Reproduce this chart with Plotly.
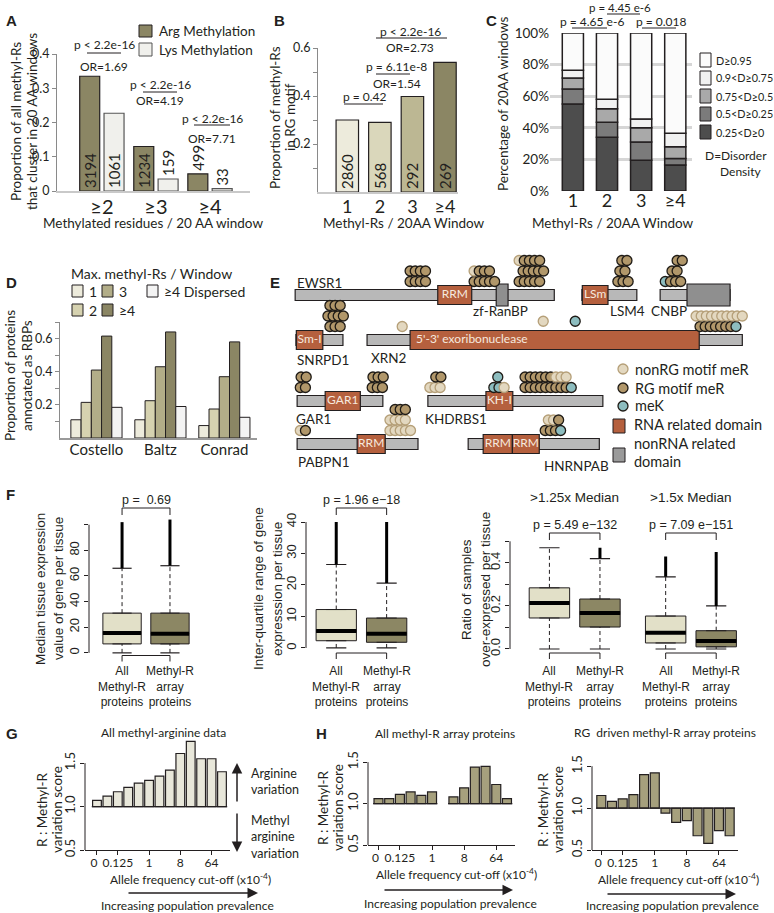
import plotly.graph_objects as go

W, H = 774, 913
MY = "Lato"              # stands in for the Myriad-like face of the figure
AR = "Liberation Sans"   # R graphics text in panel F
INK = "#231f20"

# ---------------- A ----------------
a_windows = ["≥2", "≥3", "≥4"]
a_arg = [0.335, 0.130, 0.050]
a_lys = [0.227, 0.035, 0.007]
a_arg_n = ["3194", "1234", "499"]
a_lys_n = ["1061", "159", "33"]
a_pval = ["p < 2.2e-16", "p < 2.2e-16", "p < 2.2e-16"]
a_odds = ["OR=1.69", "OR=4.19", "OR=7.71"]

# ---------------- B ----------------
b_windows = ["1", "2", "3", "≥4"]
b_rg = [0.300, 0.290, 0.398, 0.540]
b_n = ["2860", "568", "292", "269"]

# ---------------- C ----------------
c_windows = ["1", "2", "3", "≥4"]
c_bins = ["0.25<D≥0", "0.5<D≥0.25", "0.75<D≥0.5", "0.9<D≥0.75", "D≥0.95"]
c_share = [
    [0.550, 0.340, 0.195, 0.165],
    [0.095, 0.095, 0.115, 0.040],
    [0.070, 0.085, 0.090, 0.075],
    [0.050, 0.060, 0.055, 0.085],
    [0.235, 0.420, 0.545, 0.635],
]

# ---------------- D ----------------
d_studies = ["Costello", "Baltz", "Conrad"]
d_groups = ["1", "2", "3", "≥4", "≥4 Dispersed"]
d_rbp = [
    [0.110, 0.110, 0.075],
    [0.215, 0.225, 0.175],
    [0.410, 0.430, 0.370],
    [0.615, 0.640, 0.580],
    [0.185, 0.190, 0.125],
]

# ---------------- E ----------------
e_proteins = ["EWSR1", "LSM4", "CNBP", "SNRPD1", "XRN2", "GAR1", "KHDRBS1", "PABPN1", "HNRNPAB"]
e_length = [656, 139, 177, 119, 950, 217, 443, 306, 332]
e_row = [0, 0, 0, 1, 1, 2, 2, 3, 3]
e_left = [89, 815, 1013, 91, 271, 94, 425, 94, 527]
e_dom_protein = ["EWSR1", "EWSR1", "LSM4", "CNBP", "SNRPD1", "XRN2", "GAR1", "KHDRBS1",
                 "PABPN1", "HNRNPAB", "HNRNPAB"]
e_dom_start = [361, 509, 1, 68, 1, 109, 71, 147, 152, 38, 112]
e_dom_end = [447, 539, 66, 177, 68, 841, 160, 215, 223, 112, 180]
e_dom_name = ["RRM", "", "LSm", "", "Sm-I", "5'-3' exoribonuclease", "GAR1", "KH-I", "RRM", "RRM", "RRM"]
e_dom_rna = [True, False, True, False, True, True, True, True, True, True, True]
# (protein, first residue, stack level, site types: N nonRG meR, R RG meR, K meK)
e_sites = [
    ("EWSR1", 291, 0, "RRRR"), ("EWSR1", 291, 1, "RRRR"),
    ("EWSR1", 453, 0, "RRRRR"), ("EWSR1", 453, 1, "NRRR"),
    ("EWSR1", 567, 0, "RRRRR"), ("EWSR1", 577, 1, "RRRRR"), ("EWSR1", 567, 2, "NRRRR"),
    ("LSM4", 91, 0, "RRR"), ("LSM4", 96, 1, "RR"), ("LSM4", 101, 2, "RR"),
    ("CNBP", 13, 0, "KRRR"), ("CNBP", 30, 1, "RR"), ("CNBP", 43, 2, "RR"),
    ("SNRPD1", 86, 0, "RRR"), ("SNRPD1", 81, 1, "RRRR"), ("SNRPD1", 86, 2, "RRR"),
    ("XRN2", 89, 0, "N"), ("XRN2", 446, 0.5, "N"), ("XRN2", 527, 0.5, "K"),
    ("XRN2", 843, 0, "RRRRRRRK"), ("XRN2", 833, 1, "NNNNNNNNNN"),
    ("GAR1", 8, 0, "RR"), ("GAR1", 10, 1, "RR"), ("GAR1", 190, 0, "RRR"), ("GAR1", 192, 1, "RRR"),
    ("KHDRBS1", 5, 0, "NNN"), ("KHDRBS1", 20, 1, "RR"),
    ("KHDRBS1", 167, 0, "KKN"), ("KHDRBS1", 177, 1, "K"),
    ("KHDRBS1", 246, 0, "RRRRRRRRRK"), ("KHDRBS1", 246, 1, "RRRRRRNNN"),
    ("PABPN1", 8, 0, "NR"), ("PABPN1", 235, 0, "NNNNN"), ("PABPN1", 235, 1, "NNNN"),
    ("PABPN1", 248, 2, "RRR"),
    ("HNRNPAB", 195, 0, "RRRK"), ("HNRNPAB", 203, 1, "NNR"),
]

# ---------------- F ----------------
f_groups = ["All<br>Methyl-R<br>proteins", "Methyl-R<br>array<br>proteins"]
f_q1 = [[7.0, 7.0], [2.3, 1.8], [0.144, 0.102, 0.028, 0.010]]
f_med = [[15.5, 15.0], [5.4, 4.5], [0.214, 0.167, 0.075, 0.037]]
f_q3 = [[31.0, 31.0], [12.2, 9.5], [0.284, 0.232, 0.153, 0.085]]
f_lo = [[0, 0], [0, 0], [0, 0, 0, 0]]
f_hi = [[66, 68], [26.5, 20.6], [0.47, 0.42, 0.335, 0.20]]
f_out = [[102, 104], [40, 40], [None, 0.47, 0.43, 0.45]]
f_pvals = ["p =  0.69", "p = 1.96 e\u221218", "p = 5.49 e\u2212132", "p = 7.09 e\u2212151"]

# ---------------- G / H ----------------
af_cutoff = ["0", "0.0625", "0.125", "0.25", "0.5", "1", "2", "4", "8", "16", "32", "64", "128"]
af_shown = ["0", "0.125", "1", "8", "64"]
g_all = [1.07, 1.12, 1.17, 1.22, 1.27, 1.30, 1.35, 1.42, 1.61, 1.75, 1.55, 1.55, 1.40]
h_array = [1.06, 1.06, 1.11, 1.14, 1.10, 1.14, None, 1.08, 1.19, 1.44, 1.45, 1.23, 1.06]
h_rg = [1.15, 1.08, 1.11, 1.16, 1.40, 1.42, 0.94, 0.83, 0.85, 0.67, 0.58, 0.73, 0.67]

ARG = "#8b8664"
LYS = "#f0f0ec"
B_COL = ["#edebdc", "#dad7bb", "#bcb793", "#8b8664"]
C_COL = ["#4d4d4d", "#7b7b7b", "#a9a9a9", "#f1f1f1", "#fbfbfb"]
D_COL = ["#edebdc", "#d6d2b0", "#b2ad88", "#8b8664", "#f3f3f3"]
F_COL = ["#e2e0c8", "#8c8764"]

fig = go.Figure()
ann, shp, axes = [], [], {}


def X(p):
    return p / W


def Y(p):
    return 1 - p / H


def text(s, x, y, size, family=MY, anchor="center", angle=0, color=INK, align="center"):
    ann.append(dict(text=s, x=X(x), y=Y(y), xref="paper", yref="paper", showarrow=False,
                    xanchor=anchor, yanchor="middle", textangle=angle, align=align,
                    font=dict(family=family, size=size, color=color)))


def seg(x0, y0, x1, y1, color=INK, width=1):
    shp.append(dict(type="line", xref="paper", yref="paper", x0=X(x0), y0=Y(y0),
                    x1=X(x1), y1=Y(y1), line=dict(color=color, width=width)))


def rect(x0, y0, x1, y1, fill, line=INK):
    shp.append(dict(type="rect", xref="paper", yref="paper", x0=X(x0), y0=Y(y1),
                    x1=X(x1), y1=Y(y0), fillcolor=fill, line=dict(color=line, width=1)))


def arrow(x0, y0, x1, y1):
    ann.append(dict(x=X(x1), y=Y(y1), ax=x0 - x1, ay=y0 - y1, xref="paper", yref="paper",
                    text="", showarrow=True, arrowhead=2, arrowsize=1.4, arrowwidth=1.5,
                    arrowcolor=INK))


def add_axes(n, xpx, ypx, xr, yr, xkw=None, ykw=None):
    base = dict(showgrid=False, zeroline=False, showline=False, ticks="", automargin=False,
                showticklabels=False, fixedrange=True, tickangle=0)
    s = "" if n == 1 else str(n)
    ax = dict(base, domain=[X(xpx[0]), X(xpx[1])], range=xr, anchor="y" + s)
    ay = dict(base, domain=[Y(ypx[1]), Y(ypx[0])], range=yr, anchor="x" + s)
    ax.update(xkw or {})
    ay.update(ykw or {})
    axes["xaxis" + s] = ax
    axes["yaxis" + s] = ay
    return "x" + s, "y" + s


def cat_x(labels, size):
    return dict(showticklabels=True, tickvals=list(range(len(labels))), ticktext=labels,
                ticklabelstandoff=-3, tickfont=dict(family=MY, size=size, color=INK))


def num_y(vals, labels, size=13, color="#8a8a8a", family=MY, angle=0):
    return dict(showticklabels=True, tickvals=vals, ticktext=labels, ticks="outside",
                ticklen=4, tickcolor=color, tickangle=angle,
                tickfont=dict(family=family, size=size, color=INK))


# ======================= A =======================
xa, ya = add_axes(1, (57, 250), (54, 191), [-0.83, 2.74], [0, 0.4],
                  dict(cat_x(a_windows, 20), showline=True, linecolor="#c9c9c9", linewidth=2),
                  dict(num_y([0, 0.1, 0.2, 0.3, 0.4], ["0", "0.1", "0.2", "0.3", "0.4"], 12.5),
                       showline=True, linecolor="#8a8a8a"))
fig.add_bar(x=list(range(3)), y=a_arg, offset=-0.41, width=0.37, xaxis=xa, yaxis=ya,
            marker=dict(color=ARG, line=dict(color=INK, width=1.2)),
            text=a_arg_n, textangle=-90, textposition=["inside", "inside", "outside"],
            insidetextanchor="start", constraintext="none", cliponaxis=False,
            textfont=dict(family=MY, size=15, color=INK))
fig.add_bar(x=list(range(3)), y=a_lys, offset=0.04, width=0.37, xaxis=xa, yaxis=ya,
            marker=dict(color=LYS, line=dict(color="#555555", width=1.2)),
            text=a_lys_n, textangle=-90, textposition=["inside", "outside", "outside"],
            insidetextanchor="start", constraintext="none", cliponaxis=False,
            textfont=dict(family=MY, size=15, color=INK))
text("<b>A</b>", 4, 20, 15, AR, "left")
text("Proportion of all methyl-Rs", 16, 122, 13.5, angle=-90)
text("that cluster in 20 AA windows", 32, 122, 13.5, angle=-90)
text("Methylated residues / 20 AA window", 153, 223, 13.5)
rect(139, 25, 152, 37, ARG)
rect(139, 43, 152, 56, LYS, "#555555")
text("Arg Methylation", 157, 31, 13.5, anchor="left")
text("Lys Methylation", 157, 50, 13.5, anchor="left")
for cx, yp, yl, yo, half, p, o in zip([104, 160, 212], [45, 85, 118], [53, 92, 125],
                                      [66, 101, 138], [17, 17, 18], a_pval, a_odds):
    text(p, cx, yp, 12)
    seg(cx - half, yl, cx + half, yl)
    text(o, cx, yo, 12)

# ======================= B =======================
xb, yb = add_axes(2, (318, 458), (48, 192), [-0.9, 3.4], [0, 0.6],
                  dict(cat_x(b_windows, 18), showline=True, linecolor="#c9c9c9", linewidth=2),
                  dict(num_y([0.1, 0.2, 0.3, 0.4, 0.5, 0.6], ["", "0.2", "", "0.4", "", "0.6"], 12.5),
                       showline=True, linecolor="#8a8a8a"))
fig.add_bar(x=list(range(4)), y=b_rg, width=0.69, xaxis=xb, yaxis=yb,
            marker=dict(color=B_COL, line=dict(color=INK, width=1.2)),
            text=b_n, textangle=-90, textposition="inside", insidetextanchor="start",
            constraintext="none", textfont=dict(family=MY, size=15, color=INK))
text("<b>B</b>", 279, 20, 15, AR)
text("Proportion of methyl-Rs", 275, 118, 13.5, angle=-90)
text("in RG motif", 290, 117, 13.5, angle=-90)
text("Methyl-Rs / 20AA Window", 404, 223, 13.5)
text("p = 0.42", 365, 97, 12)
seg(344, 104, 383, 104)
text("p = 6.11e-8", 397, 66, 12)
seg(376, 74, 410, 74)
text("OR=1.54", 397, 84, 12)
text("p < 2.2e-16", 410, 31, 12)
seg(376, 38, 447, 38)
text("OR=2.73", 410, 48, 12)

# ======================= C =======================
xc, yc = add_axes(3, (550, 692), (33, 191), [-0.67, 3.49], [0, 1],
                  cat_x(c_windows, 18),
                  dict(showgrid=True, gridcolor="#d6d6d6", gridwidth=3, showticklabels=True,
                       tickvals=[0, 0.2, 0.4, 0.6, 0.8, 1.0],
                       ticktext=["0%", "20%", "40%", "60%", "80%", "100%"],
                       tickfont=dict(family=MY, size=13.5, color=INK)))
base = [0.0] * 4
for name, vals, col in zip(c_bins, c_share, C_COL):
    fig.add_bar(x=list(range(4)), y=vals, base=list(base), width=0.62, name=name,
                xaxis=xc, yaxis=yc, marker=dict(color=col, line=dict(color=INK, width=1.5)))
    base = [b + v for b, v in zip(base, vals)]
text("<b>C</b>", 491, 20, 15, AR)
text("Percentage of 20AA windows", 503, 104, 13.5, angle=-90)
text("Methyl-Rs / 20AA Window", 613, 223, 13.5)
text("p = 4.65 e-6", 592, 22, 12)
seg(572, 28, 607, 28)
text("p = 4.45 e-6", 620, 7.5, 11.5)
seg(607, 14, 640, 14)
text("p = 0.018", 661, 22, 12)
seg(642, 28, 676, 28)
for i, (name, col) in enumerate(reversed(list(zip(c_bins, C_COL)))):
    yy = 60 + 18 * i
    rect(700, yy - 7, 711, yy + 7, col)
    text(name, 714, yy, 10.8, anchor="left")
text("D=Disorder", 703, 155, 12, anchor="left")
text("Density", 718, 171, 12, anchor="left")

# ======================= D =======================
xd, yd = add_axes(4, (60, 257), (322, 438), [-0.57, 2.51], [0, 0.7],
                  dict(cat_x(d_studies, 15), showline=True, linecolor="#9a9a9a", linewidth=1.5),
                  dict(num_y([0.1, 0.2, 0.3, 0.4, 0.5, 0.6, 0.7],
                             ["", "0.2", "", "0.4", "", "0.6", ""], 12.5),
                       showline=True, linecolor="#8a8a8a"))
for i, (name, vals, col) in enumerate(zip(d_groups, d_rbp, D_COL)):
    fig.add_bar(x=list(range(3)), y=vals, offset=-0.4 + 0.16 * i, width=0.16, name=name,
                xaxis=xd, yaxis=yd, marker=dict(color=col, line=dict(color=INK, width=1)))
text("<b>D</b>", 4, 282, 15, AR, "left")
text("Proportion of proteins", 10, 376, 13.5, angle=-90)
text("annotated as RBPs", 27, 376, 13.5, angle=-90)
text("Max. methyl-Rs / Window", 151, 273, 14)
for (lx, ly), g, col in zip([(72, 291), (72, 310), (102, 291), (102, 310), (147, 291)],
                            d_groups, D_COL):
    rect(lx, ly - 6, lx + 11, ly + 6, col)
    text(g, lx + 15, ly, 14, anchor="left")

# ======================= E =======================
E_PX = 0.395                      # pixels per residue on the drawing
xe, ye = add_axes(5, (260, 774), (250, 470), [0, 514 / E_PX], [470, 250])
row_y = [295, 340, 401, 444]
left_of = dict(zip(e_proteins, e_left))
row_of = dict(zip(e_proteins, e_row))
fig.add_bar(orientation="h", y=[row_y[r] for r in e_row], x=e_length, base=e_left, width=11,
            xaxis=xe, yaxis=ye, marker=dict(color="#b8b8b8", line=dict(color=INK, width=1.2)))
fig.add_bar(orientation="h", y=[row_y[row_of[p]] for p in e_dom_protein],
            x=[e - s for s, e in zip(e_dom_start, e_dom_end)],
            base=[left_of[p] + s for p, s in zip(e_dom_protein, e_dom_start)],
            width=[19 if r else 22 for r in e_dom_rna], xaxis=xe, yaxis=ye,
            marker=dict(color=["#b5603e" if r else "#8f8f8f" for r in e_dom_rna],
                        line=dict(color=INK, width=1.2)))
lab_x, lab_y, lab_t, lab_pos = [], [], [], []
for p, s, e, n in zip(e_dom_protein, e_dom_start, e_dom_end, e_dom_name):
    if not n:
        continue
    long_name = len(n) > 6
    lab_x.append(left_of[p] + (s + 15 if long_name else (s + e) / 2))
    lab_y.append(row_y[row_of[p]])
    lab_t.append(n)
    lab_pos.append("middle right" if long_name else "middle center")
fig.add_scatter(x=lab_x, y=lab_y, text=lab_t, mode="text", textposition=lab_pos,
                textfont=dict(family=MY, size=12, color="#f6e9df"), xaxis=xe, yaxis=ye)
SITE_STYLE = {"N": ("#e3d8c0", "#b59f78"), "R": ("#b1976a", "#1f1b16"), "K": ("#8dbdbf", "#1f1b16")}
sx, sy, sf, sl = [], [], [], []
for p, aa, lvl, kinds in e_sites:
    for i, k in enumerate(kinds):
        sx.append(left_of[p] + aa + 13 * i)
        sy.append(row_y[row_of[p]] - 13.5 - 10.5 * lvl)
        sf.append(SITE_STYLE[k][0])
        sl.append(SITE_STYLE[k][1])
fig.add_scatter(x=sx, y=sy, mode="markers", xaxis=xe, yaxis=ye,
                marker=dict(size=10, color=sf, line=dict(color=sl, width=1.3)))
text("<b>E</b>", 275, 282, 15, AR)
for name, x, y, anc in [("EWSR1", 295, 283, "left"), ("zf-RanBP", 500, 311, "center"),
                        ("LSM4", 627, 311, "center"), ("CNBP", 669, 311, "center"),
                        ("SNRPD1", 295, 360, "left"), ("XRN2", 369, 358, "left"),
                        ("GAR1", 294, 419, "left"), ("KHDRBS1", 423, 419, "left"),
                        ("PABPN1", 296, 462, "left"), ("HNRNPAB", 542, 466, "left")]:
    text(name, x, y, 13.5, anchor=anc)
for (fillc, linec), lab, yy in zip([SITE_STYLE["N"], SITE_STYLE["R"], SITE_STYLE["K"]],
                                   ["nonRG motif meR", "RG motif meR", "meK"], [369, 388, 406]):
    shp.append(dict(type="circle", xref="paper", yref="paper", x0=X(618), x1=X(628),
                    y0=Y(yy + 5), y1=Y(yy - 5), fillcolor=fillc, line=dict(color=linec, width=1.3)))
    text(lab, 633, yy, 14.5, anchor="left")
rect(613, 419, 625, 433, "#b5603e")
text("RNA related domain", 632, 425, 14.5, anchor="left")
rect(613, 448, 625, 462, "#9a9a9a")
text("nonRNA related", 632, 443, 14.5, anchor="left")
text("domain", 632, 461, 14.5, anchor="left")

# ======================= F =======================
f_specs = [
    # axis no, x px, y px, x range, y range, tick vals, tick labels, positions
    (6, (89, 215), (517, 658), [0.31, 2.94], [-4, 106], [0, 20, 40, 60, 80, 100],
     ["0", "20", "40", "60", "80", ""], [1, 2]),
    (7, (306, 432), (515.7, 653), [0.4, 2.9], [-1.6, 42], [0, 10, 20, 30, 40],
     ["0", "10", "20", "30", "40"], [1, 2]),
    (8, (510, 745), (537, 653.3), [0.22, 4.87], [-0.02, 0.52], [0, 0.1, 0.2, 0.3, 0.4, 0.5],
     ["0.0", "", "0.2", "", "0.4", ""], [1, 2, 3.3, 4.3]),
]
f_bottom = [655.5, 653, 653]
for k, (n, xpx, ypx, xr, yr, tv, tt, pos) in enumerate(f_specs):
    xf, yf = add_axes(n, xpx, ypx, xr, yr, None,
                      num_y(tv, tt, 13, INK, AR, -90))
    shp.append(dict(type="line", xref=xf + " domain", yref=yf, x0=0, x1=0, y0=tv[0], y1=tv[-1],
                    line=dict(color=INK, width=1)))
    for j, ps in enumerate(pos):
        col = F_COL[j % 2]
        q1, md, q3 = f_q1[k][j], f_med[k][j], f_q3[k][j]
        lo, hi, out = f_lo[k][j], f_hi[k][j], f_out[k][j]
        fig.add_trace(go.Box(x=[ps], q1=[q1], median=[md], q3=[q3], lowerfence=[q1],
                             upperfence=[q3], width=0.8, fillcolor=col, boxpoints=False,
                             line=dict(color=INK, width=1), xaxis=xf, yaxis=yf))
        fig.add_scatter(x=[ps - 0.4, ps + 0.4], y=[md, md], mode="lines", xaxis=xf, yaxis=yf,
                        line=dict(color="black", width=4))
        fig.add_scatter(x=[ps, ps, None, ps, ps], y=[q3, hi, None, lo, q1], mode="lines",
                        xaxis=xf, yaxis=yf, line=dict(color=INK, width=1, dash="4px,3px"))
        fig.add_scatter(x=[ps - 0.2, ps + 0.2, None, ps - 0.2, ps + 0.2],
                        y=[hi, hi, None, lo, lo], mode="lines", xaxis=xf, yaxis=yf,
                        line=dict(color=INK, width=1.2))
        if out is not None:
            fig.add_scatter(x=[ps, ps], y=[hi, out], mode="lines", xaxis=xf, yaxis=yf,
                            line=dict(color="black", width=3))
    yb0 = f_bottom[k]
    for pair in range(len(pos) // 2):
        p0, p1 = pos[2 * pair], pos[2 * pair + 1]
        for xx0, yy0, xx1, yy1 in [(p0, yb0, p1, yb0), (p0, yb0, p0, yb0 + 6), (p1, yb0, p1, yb0 + 6)]:
            shp.append(dict(type="line", xref=xf, yref="paper", x0=xx0, x1=xx1, y0=Y(yy0), y1=Y(yy1),
                            line=dict(color=INK, width=1)))
        for ps, g in zip((p0, p1), f_groups):
            ann.append(dict(text=g, x=ps, y=Y(686), xref=xf, yref="paper", showarrow=False,
                            xanchor="center", yanchor="middle",
                            font=dict(family=AR, size=12, color=INK)))
        ptop = 508 if k < 2 else 533
        for xx0, yy0, xx1, yy1 in [(p0, ptop, p1, ptop), (p0, ptop, p0, ptop + 7), (p1, ptop, p1, ptop + 7)]:
            shp.append(dict(type="line", xref=xf, yref="paper", x0=xx0, x1=xx1, y0=Y(yy0), y1=Y(yy1),
                            line=dict(color=INK, width=1)))
        ann.append(dict(text=f_pvals[k + pair], x=(p0 + p1) / 2, y=Y(ptop - 8), xref=xf,
                        yref="paper", showarrow=False, xanchor="center", yanchor="middle",
                        font=dict(family=AR, size=12.5, color=INK)))
text("<b>F</b>", 4, 494, 15, AR, "left")
text("Median tissue expression", 40, 589, 13.5, AR, angle=-90)
text("value of gene per tissue", 58, 589, 13.5, AR, angle=-90)
text("Inter-quartile range of gene", 258, 589, 13.5, AR, angle=-90)
text("expresssion per tissue", 277, 589, 13.5, AR, angle=-90)
text("Ratio of samples", 466, 590, 13.5, AR, angle=-90)
text("over-expressed per tissue", 485, 590, 13.5, AR, angle=-90)
text(">1.25x Median", 574, 498, 13.5, AR)
text(">1.5x Median", 690, 498, 13.5, AR)

# ======================= G / H =======================
gh_specs = [
    (9, (85, 230), (737, 850), [-1.15, 12.77], [0.5, 1.8], g_all, "#e8e7da",
     "All methyl-arginine data", 163, 732, 190, 879, (127, 258, 893), 187, 905, 42, 810),
    (10, (368, 515), (758, 845), [-0.98, 12.75], [0.5, 1.55], h_array, "#a6a07d",
     "All methyl-R array proteins", 445, 733, 456, 874, (383, 513, 890), 450, 903, 323, 808),
    (11, (592, 738), (762, 850), [-0.87, 12.78], [0.5, 1.55], h_rg, "#a6a07d",
     "RG  driven methyl-R array proteins", 665, 732, 678, 879, (606, 736, 894), 672, 905, 543, 810),
]
shown_idx = [af_cutoff.index(t) for t in af_shown]
for (n, xpx, ypx, xr, yr, vals, col, title, tx, ty, ax_x, ax_y, arr, ix, iy, lx, ly) in gh_specs:
    xg, yg = add_axes(n, xpx, ypx, xr, yr,
                      dict(showline=True, linecolor=INK, linewidth=1, ticks="outside", ticklen=4,
                           tickcolor=INK, showticklabels=True, tickvals=shown_idx,
                           ticktext=[t if t != "0" else "0  " for t in af_shown],
                           ticklabelstandoff=-2, tickfont=dict(family=MY, size=12, color=INK)),
                      num_y([0.5, 1.0, 1.5], ["0.5", "1.0", "1.5"], 13, INK, MY, -90))
    shp.append(dict(type="line", xref=xg + " domain", yref=yg, x0=0, x1=0, y0=0.5, y1=1.5,
                    line=dict(color=INK, width=1)))
    idx = [i for i, v in enumerate(vals) if v is not None]
    fig.add_bar(x=idx, y=[vals[i] - 1 for i in idx], base=1, width=0.84, xaxis=xg, yaxis=yg,
                marker=dict(color=col, line=dict(color=INK, width=1.2)))
    bx, by = [], []
    for i, v in enumerate(vals):
        if v is None:
            bx.append(None)
            by.append(None)
        else:
            bx += [i - 0.5, i + 0.5]
            by += [1, 1]
    fig.add_scatter(x=bx, y=by, mode="lines", connectgaps=False, xaxis=xg, yaxis=yg,
                    line=dict(color=INK, width=1.2))
    text(title, tx, ty, 12)
    text("Allele frequency cut-off (x10<sup>-4</sup>)", ax_x, ax_y, 12)
    arrow(arr[0], arr[2], arr[1], arr[2])
    text("Increasing population prevalence", ix, iy, 12)
    text("R : Methyl-R", lx, ly, 13.5, angle=-90)
    text("variation score", lx + 15, ly, 13.5, angle=-90)
text("<b>G</b>", 4, 733, 15, AR, "left")
text("<b>H</b>", 321, 733, 15, AR)
arrow(237, 803, 237, 763)
arrow(237, 812, 237, 852)
text("Arginine<br>variation", 249, 781, 12.5, anchor="left", align="left")
text("Methyl<br>arginine<br>variation", 249, 837, 12.5, anchor="left", align="left")

fig.update_layout(**axes)
fig.update_layout(template="none", width=W, height=H, margin=dict(l=0, r=0, t=0, b=0),
                  showlegend=False, barmode="overlay", paper_bgcolor="white",
                  plot_bgcolor="rgba(0,0,0,0)", annotations=ann, shapes=shp,
                  font=dict(family=MY, color=INK))
# the page body keeps its default 8px margin otherwise, pushing the figure off the window
fig.write_html("out.html", config={"displayModeBar": False},
               post_script="document.body.style.margin = '0';")
